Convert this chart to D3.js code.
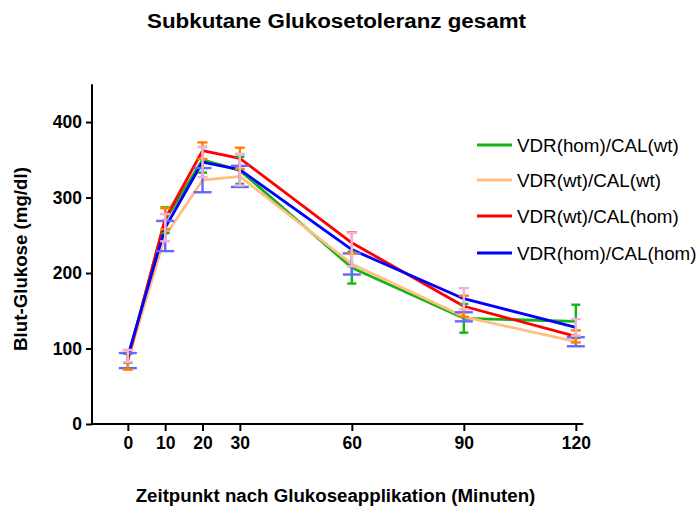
<!DOCTYPE html>
<html>
<head>
<meta charset="utf-8">
<script src="https://cdn.jsdelivr.net/npm/d3@7"></script>
<style>
  html, body { margin: 0; padding: 0; background: #fff; }
  svg { display: block; font-family: "Liberation Sans", Arial, sans-serif; }
</style>
</head>
<body>
<svg id="chart" width="697" height="507"></svg>
<script>
// Sampling times (minutes after glucose injection)
const times = [0, 10, 20, 30, 60, 90, 120];
const xTicks = [0, 10, 20, 30, 60, 90, 120];
const yTicks = [0, 100, 200, 300, 400];

// Group names
const groups = ["VDR(hom)/CAL(wt)", "VDR(wt)/CAL(wt)", "VDR(wt)/CAL(hom)", "VDR(hom)/CAL(hom)"];

// Mean blood glucose (mg/dl) per group
const homWtMean  = [87, 270, 350, 336, 207, 140, 136];
const wtWtMean   = [84, 249, 323, 328, 212, 142, 109];
const wtHomMean  = [85, 272, 362, 352, 240, 156, 116];
const homHomMean = [90, 260, 347, 337, 231, 166, 128];

// Standard error per group
const homWtSem  = [6, 17, 17, 18, 21, 19, 22];
const wtWtSem   = [10, 20, 16, 14, 14, 6, 6];
const wtHomSem  = [13, 14, 11, 14, 14, 14, 8];
const homHomSem = [8, 18, 20, 21, 22, 14, 11];

const lineColors = ["#14B414", "#FFBF80", "#FF0000", "#0000FF"];
const barColors  = ["#14B414", "#6666FF", "#FF8000", "#F2AEDC"];
const capWidths  = [9, 18, 10, 10];

const means = [homWtMean, wtWtMean, wtHomMean, homHomMean];
const sems  = [homWtSem, wtWtSem, wtHomSem, homHomSem];

const svg = d3.select("#chart");

const x = d3.scaleLinear().domain([-9.6, 122]).range([92, 583.3]);
const y = d3.scaleLinear().domain([0, 450]).range([424, 84.3]);

// Axes
const xAxis = d3.axisBottom(x).tickValues(xTicks).tickSize(7).tickPadding(6).tickFormat(d3.format("d"));
const yAxis = d3.axisLeft(y).tickValues(yTicks).tickSize(6).tickPadding(4).tickFormat(d3.format("d"));

const gx = svg.append("g").attr("transform", "translate(0,424)").call(xAxis);
const gy = svg.append("g").attr("transform", "translate(92,0)").call(yAxis);

[gx, gy].forEach(g => {
  g.select(".domain").attr("stroke", "#000").attr("stroke-width", 2);
  g.selectAll(".tick line").attr("stroke", "#000").attr("stroke-width", 2);
  g.selectAll(".tick text")
    .attr("fill", "#000")
    .style("font-size", "17.5px")
    .style("font-weight", "bold")
    .style("font-family", "'Liberation Sans', Arial, sans-serif");
});
gx.select(".domain").attr("d", "M92,0H583.3");
gy.select(".domain").attr("d", "M0,424V84.3");

// Group lines
const line = d3.line().x((d, i) => x(times[i])).y(d => y(d));
const plot = svg.append("g");

means.forEach((m, k) => {
  plot.append("path")
    .datum(m)
    .attr("fill", "none")
    .attr("stroke", lineColors[k])
    .attr("stroke-width", 2.8)
    .attr("stroke-linejoin", "round")
    .attr("d", line);
});

// Error bars (mean ± SEM)
means.forEach((m, k) => {
  const g = plot.append("g").attr("stroke", barColors[k]).attr("stroke-width", 2.4);
  m.forEach((v, i) => {
    const cx = x(times[i]);
    const lo = y(v - sems[k][i]);
    const hi = y(v + sems[k][i]);
    const hw = capWidths[k] / 2;
    g.append("line").attr("x1", cx).attr("x2", cx).attr("y1", lo).attr("y2", hi);
    g.append("line").attr("x1", cx - hw).attr("x2", cx + hw).attr("y1", lo).attr("y2", lo);
    g.append("line").attr("x1", cx - hw).attr("x2", cx + hw).attr("y1", hi).attr("y2", hi);
  });
});

// Titles
svg.append("text")
  .attr("x", 336.5).attr("y", 28)
  .attr("text-anchor", "middle")
  .attr("textLength", 379).attr("lengthAdjust", "spacingAndGlyphs")
  .style("font-size", "19.5px").style("font-weight", "bold")
  .text("Subkutane Glukosetoleranz gesamt");

svg.append("text")
  .attr("x", 335.5).attr("y", 501.5)
  .attr("text-anchor", "middle")
  .style("font-size", "18.7px").style("font-weight", "bold")
  .text("Zeitpunkt nach Glukoseapplikation (Minuten)");

svg.append("text")
  .attr("transform", "translate(26.5,259) rotate(-90)")
  .attr("text-anchor", "middle")
  .style("font-size", "18.7px").style("font-weight", "bold")
  .text("Blut-Glukose (mg/dl)");

// Legend
const legendY = [145, 180, 216, 253];
const legend = svg.append("g");
groups.forEach((name, k) => {
  legend.append("line")
    .attr("x1", 477).attr("x2", 512)
    .attr("y1", legendY[k]).attr("y2", legendY[k])
    .attr("stroke", lineColors[k]).attr("stroke-width", 2.8);
  legend.append("text")
    .attr("x", 517).attr("y", legendY[k] + 6.7)
    .style("font-size", "18.8px")
    .text(name);
});
</script>
</body>
</html>
